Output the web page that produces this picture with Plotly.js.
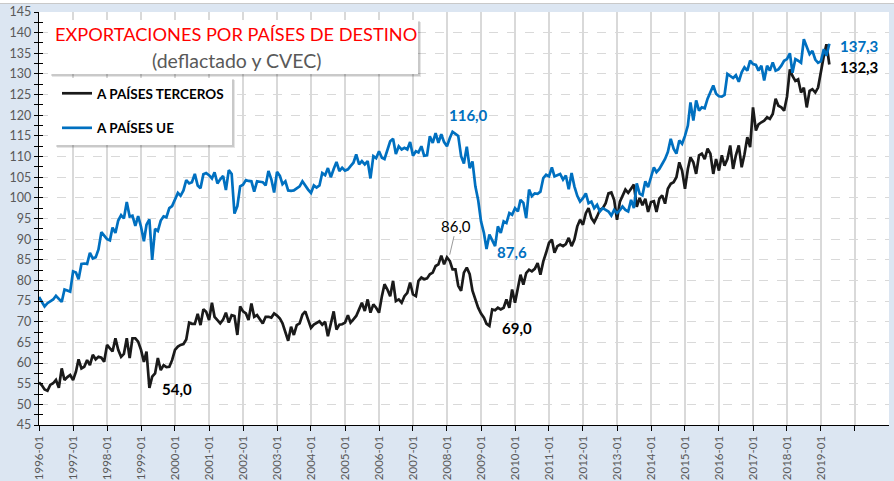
<!DOCTYPE html>
<html><head><meta charset="utf-8">
<script src="https://cdn.plot.ly/plotly-3.0.1.min.js"></script>
<style>html,body{margin:0;padding:0;background:#dce6f2;}#chart{width:894px;height:481px;}</style>
</head><body><div id="chart"></div>
<script>
// ---- data ----
const startYear = 1996;
const seriesNames = ['A PAÍSES TERCEROS', 'A PAÍSES UE'];
const terceros = [
 55.3,54.6,53.6,53.3,54.7,55.1,55.9,54.0,58.7,55.9,56.6,57.1,
 55.9,57.9,60.9,58.7,59.1,60.7,59.5,62.0,60.9,61.5,61.3,60.3,
 64.4,63.6,62.8,66.0,63.2,61.5,62.2,66.0,61.2,66.0,66.0,65.2,
 63.2,60.3,62.8,54.0,56.7,57.5,61.2,58.3,59.5,59.0,59.1,60.7,
 63.2,64.0,64.4,64.6,65.7,69.8,69.5,69.5,71.9,69.2,73.0,72.4,
 70.4,74.6,71.2,70.4,69.6,70.5,72.2,69.8,71.6,71.4,66.8,73.7,
 72.5,72.0,70.4,74.4,71.2,71.6,70.5,69.6,71.2,71.2,71.0,72.0,
 71.5,70.8,69.6,67.2,65.4,68.8,66.8,69.2,69.6,71.7,72.5,70.5,
 68.5,69.3,69.7,70.1,69.3,70.0,66.5,69.7,72.5,68.1,69.3,69.4,
 69.8,71.6,69.8,70.6,71.4,73.0,74.6,72.6,75.4,72.2,74.2,73.4,
 72.2,76.2,79.1,77.8,76.2,79.9,75.0,75.4,74.6,76.2,77.0,79.5,
 76.6,76.2,79.9,80.7,80.3,80.5,81.5,81.9,83.5,83.9,86.0,83.9,
 85.6,84.7,82.7,82.7,78.7,77.5,81.9,83.1,81.5,77.5,75.4,73.4,
 72.0,71.0,69.5,69.0,73.0,72.8,73.4,73.0,73.4,75.4,73.4,77.8,
 74.6,78.6,81.4,79.0,81.8,82.6,82.2,82.8,84.2,81.4,84.6,86.7,
 89.1,89.9,86.7,88.3,88.7,88.3,88.8,90.3,88.3,89.9,93.1,94.7,
 93.5,96.3,97.5,95.1,94.1,95.5,97.1,97.5,98.7,101.1,101.3,99.5,
 94.7,99.1,100.3,102.0,101.2,102.4,103.2,97.8,100.0,98.2,99.8,96.6,
 99.0,99.2,96.6,99.8,100.6,98.6,102.2,103.4,103.8,105.0,108.6,106.6,
 102.2,107.0,109.8,108.6,105.8,110.3,110.7,109.4,111.9,110.7,105.8,109.4,
 106.6,110.3,107.8,109.4,112.7,107.0,110.3,112.7,107.4,110.5,114.7,112.3,
 121.9,116.3,117.8,118.3,118.7,119.5,119.1,120.3,124.0,122.3,121.9,121.1,
 124.5,131.1,129.5,128.3,128.7,125.5,126.7,121.9,125.9,126.3,125.5,126.7,
 130.7,134.4,137.2,132.3
];
const ue = [
 76.0,74.8,73.7,74.5,74.9,75.4,76.3,75.6,74.8,77.8,77.5,77.3,
 82.2,81.9,80.3,84.0,84.1,84.0,86.7,85.3,85.6,87.5,91.7,90.8,
 90.0,89.7,92.8,91.5,94.5,95.8,95.0,99.0,95.5,95.7,93.2,95.6,
 93.0,89.5,93.5,94.8,85.0,92.5,92.0,94.5,95.5,95.3,97.5,98.0,
 99.8,101.2,100.5,101.8,104.3,103.5,103.8,105.8,103.0,102.3,105.7,106.0,
 105.5,104.7,106.2,103.5,104.5,105.3,101.9,106.7,105.8,96.2,98.0,102.8,
 103.2,104.3,104.1,104.0,101.5,104.0,103.9,103.8,103.0,106.5,104.5,101.3,
 106.3,105.3,103.3,104.0,101.8,101.7,101.8,102.3,102.8,104.0,102.8,102.0,
 101.2,103.0,102.5,103.0,106.0,105.5,107.2,105.0,107.0,108.7,106.5,107.3,
 106.6,106.9,107.7,108.5,110.5,108.1,108.9,108.1,108.9,104.7,110.1,109.6,
 111.3,109.7,109.4,111.7,113.7,114.3,110.6,112.5,111.7,112.1,111.7,113.5,
 110.2,111.3,111.0,112.5,110.2,110.3,114.9,113.3,115.7,113.3,115.4,113.5,
 112.5,114.5,116.0,115.5,115.0,110.1,108.3,112.4,107.2,108.8,102.8,99.5,
 94.3,91.5,87.6,91.1,89.9,88.3,93.1,91.5,94.3,93.9,96.3,95.9,
 97.5,96.7,99.5,98.8,95.1,102.0,100.4,101.1,101.0,101.5,104.8,105.6,
 105.2,107.4,105.2,105.6,105.8,104.4,105.4,102.1,106.0,102.8,100.5,99.1,
 99.9,101.1,98.7,99.1,97.5,98.3,96.7,97.5,97.0,96.7,95.7,97.1,
 96.3,97.0,97.9,97.1,96.7,99.5,97.5,103.5,101.0,100.6,104.0,102.6,
 105.0,107.4,106.2,107.0,108.2,109.4,111.1,114.3,111.9,110.7,113.9,113.1,
 115.0,117.5,123.1,118.7,123.6,121.1,121.9,121.7,124.0,125.5,127.2,125.2,
 124.6,124.5,124.9,130.0,129.4,129.0,129.7,128.1,130.4,131.6,130.8,133.2,
 132.4,132.2,130.8,132.0,128.4,132.0,130.8,132.8,130.8,131.1,132.0,133.2,
 133.6,135.0,130.3,133.6,133.2,132.7,138.4,136.5,134.8,135.6,133.5,132.7,
 133.1,136.0,134.4,137.3
];
const tickYears = [1996,1997,1998,1999,2000,2001,2002,2003,2004,2005,2006,2007,2008,2009,2010,2011,2012,2013,2014,2015,2016,2017,2018,2019,2020];
const labelledYears = 2019;
const pointLabels = [
 {text:'116,0', x:'2008-08-16', y:120.1, color:'#0070c0', bold:true},
 {text:'87,6',  x:'2009-11-28', y:87.0,  color:'#0070c0', bold:true},
 {text:'69,0',  x:'2010-01-21', y:68.6,  color:'#000000', bold:true},
 {text:'54,0',  x:'2000-01-21', y:53.7,  color:'#000000', bold:true},
 {text:'137,3', x:'2020-02-09', y:136.8, color:'#0070c0', bold:true},
 {text:'132,3', x:'2020-02-09', y:131.8, color:'#000000', bold:true}
];
const peakLabel = {text:'86,0', x:'2008-01-28', y:86.0};
const titleText = 'EXPORTACIONES POR PAÍSES DE DESTINO';
const subtitleText = '(deflactado y CVEC)';

// ---- build ----
function monthDate(i){
  const y = startYear + Math.floor(i/12), m = i%12 + 1;
  return y + '-' + (m<10?'0':'') + m + '-01';
}
const dates = terceros.map((_, i) => monthDate(i));
const PX = p => (p - 39) / 850;
const PY = p => (425 - p) / 413;
const FONT = 'Lato, "Open Sans", sans-serif';

const traces = [
  {x: dates, y: terceros, name: seriesNames[0], type:'scatter', mode:'lines',
   line:{color:'#1a1a1a', width:2.7}, legendgroup:'a'},
  {x: dates, y: ue, name: seriesNames[1], type:'scatter', mode:'lines',
   line:{color:'#0070c0', width:2.7}, legendgroup:'b'},
  {x: [], y: [], yaxis:'y2', showlegend:false, hoverinfo:'skip'}
];

const annotations = pointLabels.map(l => ({
  x:l.x, y:l.y, xref:'x', yref:'y', text:l.text, showarrow:false,
  xanchor:'center', yanchor:'middle',
  font:{family:FONT, size:15, color:l.color, weight: l.bold ? 'bold' : 'normal'}
}));
annotations.push({x:peakLabel.x, y:peakLabel.y, xref:'x', yref:'y', text:peakLabel.text,
  showarrow:true, arrowhead:0, arrowwidth:0.8, arrowcolor:'#7f7f7f', ax:7, ay:-30, standoff:1,
  font:{family:FONT, size:15, color:'#000000'}});
annotations.push({x:PX(235.5), y:PY(34), xref:'paper', yref:'paper', text:titleText, showarrow:false,
  xanchor:'center', yanchor:'middle',
  font:{family:FONT, size:18.2, color:'#ff0000'}});
annotations.push({x:PX(236), y:PY(60), xref:'paper', yref:'paper', text:subtitleText, showarrow:false,
  xanchor:'center', yanchor:'middle',
  font:{family:FONT, size:19.5, color:'#595959'}});

function rect(x0,y0,x1,y1,fill){
  return {type:'rect', xref:'paper', yref:'paper', x0:PX(x0), x1:PX(x1), y0:PY(y1), y1:PY(y0),
    fillcolor:fill, line:{width:0}, layer:'above'};
}
const shapes = [
  rect(0,0,894,3,'#ffffff'),
  {type:'line', xref:'paper', yref:'paper', x0:PX(0), x1:PX(894), y0:PY(3.5), y1:PY(3.5), line:{color:'#c9c9c9', width:1}, layer:'above'},
  rect(52,22,421,77,'rgba(0,0,0,0.10)'),
  rect(51,21,420,76,'rgba(0,0,0,0.12)'),
  rect(50,20,418,74,'#ffffff'),
  rect(57,80,235,148,'rgba(0,0,0,0.10)'),
  rect(56,79,234,147,'rgba(0,0,0,0.12)'),
  rect(55,78,232,145,'#ffffff')
];

const yTicks = [];
for (let v = 45; v <= 145; v += 5) yTicks.push(v);

const layout = {
  width:894, height:481,
  margin:{l:39, r:5, t:12, b:56, pad:0},
  paper_bgcolor:'#dce6f2', plot_bgcolor:'#ffffff',
  showlegend:true,
  legend:{x:PX(57), y:PY(78), xanchor:'left', yanchor:'top', bgcolor:'rgba(0,0,0,0)',
    font:{family:FONT, size:13.5, color:'#000000', weight:'bold'}, tracegroupgap:14, itemwidth:30},
  xaxis:{type:'date', range:['1996-01-01','2021-01-01'],
    tickmode:'array', tickvals: tickYears.map(y => y + '-01-01'),
    ticktext: tickYears.map(y => y <= labelledYears ? y + '-01' : ''),
    tickangle:-90, tickfont:{family:FONT, size:11.5, color:'#595959'},
    showgrid:true, gridcolor:'#d9d9d9', gridwidth:1.5,
    showline:true, linecolor:'#000000', linewidth:1.3,
    ticks:'outside', ticklen:5, tickcolor:'#000000', zeroline:false},
  yaxis:{range:[45,145], tickmode:'array', tickvals:yTicks,
    tickfont:{family:FONT, size:12.5, color:'#595959'},
    showgrid:true, gridcolor:'#d9d9d9', griddash:'dash', gridwidth:1,
    showline:true, linecolor:'#000000', linewidth:1.3,
    ticks:'outside', ticklen:4, tickcolor:'#000000', zeroline:false,
    minor:{tickmode:'linear', tick0:45, dtick:2.5, ticks:'outside', ticklen:4, tickcolor:'#000000', showgrid:false}},
  yaxis2:{range:[45,145], overlaying:'y', side:'left', showgrid:false, showticklabels:false,
    tickmode:'linear', tick0:45, dtick:2.5, ticks:'inside', ticklen:4, tickcolor:'#000000', zeroline:false, showline:false},
  annotations: annotations,
  shapes: shapes
};

Plotly.newPlot('chart', traces, layout, {displayModeBar:false, staticPlot:true});
</script></body></html>
